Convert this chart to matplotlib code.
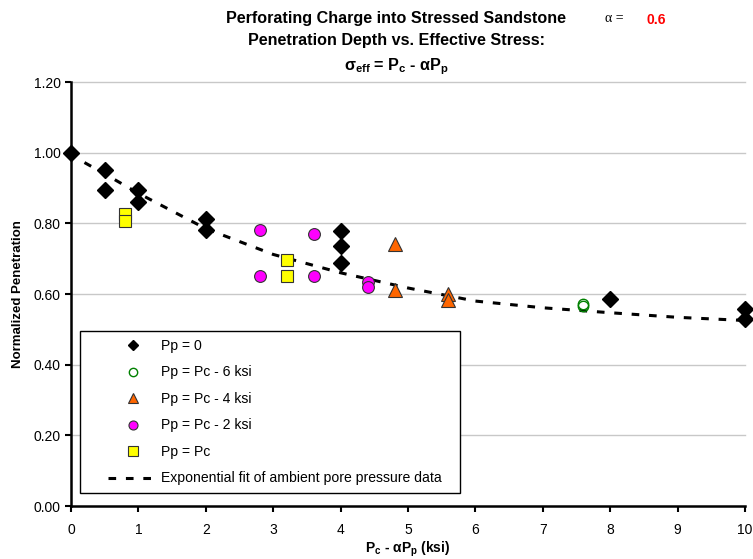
import numpy as np
import matplotlib
matplotlib.use('Agg')
import matplotlib.pyplot as plt
from matplotlib.patches import Rectangle
from matplotlib.lines import Line2D

plt.rcParams['font.family'] = ['Liberation Sans', 'DejaVu Sans']
plt.rcParams['mathtext.fontset'] = 'custom'
plt.rcParams['mathtext.rm'] = 'Liberation Sans:bold'
plt.rcParams['mathtext.it'] = 'Liberation Sans:bold'
plt.rcParams['mathtext.bf'] = 'Liberation Sans:bold'

# %% data
pp0_x = [0, 0.5, 0.5, 1, 1, 2, 2, 4, 4, 4, 8, 10, 10]
pp0_y = [1.00, 0.952, 0.895, 0.893, 0.861, 0.813, 0.782, 0.779, 0.737, 0.688, 0.585, 0.557, 0.528]

pc6_x = [7.6, 7.6]
pc6_y = [0.573, 0.565]

pc4_x = [4.8, 4.8, 5.6, 5.6]
pc4_y = [0.742, 0.612, 0.600, 0.583]

pc2_x = [2.8, 2.8, 3.6, 3.6, 4.4, 4.4]
pc2_y = [0.780, 0.650, 0.771, 0.650, 0.635, 0.621]

pc_x = [0.8, 0.8, 3.2, 3.2]
pc_y = [0.827, 0.806, 0.697, 0.651]

fit_x = [0.2, 0.5, 1, 2, 3, 4, 5, 6, 7, 8, 9, 10]
fit_y = [0.972, 0.94, 0.885, 0.785, 0.712, 0.660, 0.617, 0.580, 0.561, 0.547, 0.534, 0.525]

yticks = [0.0, 0.2, 0.4, 0.6, 0.8, 1.0, 1.2]
xticks = list(range(0, 11))

# %% figure
W, H = 753, 559
fig = plt.figure(figsize=(W / 100, H / 100), dpi=100)
ax = fig.add_axes([71 / W, 1 - 506 / H, 674 / W, 424 / H])

for y in yticks[1:]:
    ax.axhline(y, color='#c8c8c8', lw=1.0, zorder=0)

fit_line, = ax.plot(fit_x, fit_y, color='black', lw=2.2, dashes=(2.5, 3.2),
                    label='Exponential fit of ambient pore pressure data', zorder=2)
ax.plot(pp0_x, pp0_y, 'D', ms=7.8, color='black', ls='none', zorder=3)
ax.plot(pc6_x, pc6_y, 'o', ms=7.5, mfc='none', mec='#008000', mew=1.0, ls='none', zorder=3)
ax.plot(pc4_x, pc4_y, '^', ms=9.5, mfc='#ff6600', mec='#333333', mew=0.8, ls='none', zorder=3)
ax.plot(pc2_x, pc2_y, 'o', ms=8.5, mfc='#ff00ff', mec='#333333', mew=0.8, ls='none', zorder=3)
ax.plot(pc_x, pc_y, 's', ms=8.5, mfc='#ffff00', mec='#333333', mew=0.8, ls='none', zorder=3)

ax.set_xlim(0, 10)
ax.set_ylim(0, 1.2)
ax.set_xticks(xticks)
ax.set_yticks(yticks)
ax.set_yticklabels(['{0:.2f}'.format(v) for v in yticks])
ax.tick_params(axis='both', direction='out', length=4, width=1.5, labelsize=10)
ax.tick_params(axis='x', pad=8)
for s in ['top', 'right']:
    ax.spines[s].set_visible(False)
for s in ['left', 'bottom']:
    ax.spines[s].set_linewidth(1.8)
for art in ax.lines:
    art.set_clip_on(False)

# %% legend
handles = [
    Line2D([], [], marker='D', ms=5.5, color='black', ls='none'),
    Line2D([], [], marker='o', ms=6, mfc='none', mec='#008000', ls='none'),
    Line2D([], [], marker='^', ms=7, mfc='#ff6600', mec='#333333', mew=0.8, ls='none'),
    Line2D([], [], marker='o', ms=6.5, mfc='#ff00ff', mec='#333333', mew=0.8, ls='none'),
    Line2D([], [], marker='s', ms=6.5, mfc='#ffff00', mec='#333333', mew=0.8, ls='none'),
    fit_line,
]
labels = ['Pp = 0', 'Pp = Pc - 6 ksi', 'Pp = Pc - 4 ksi', 'Pp = Pc - 2 ksi', 'Pp = Pc',
          'Exponential fit of ambient pore pressure data']
leg = fig.legend(handles, labels, loc='upper left', bbox_to_anchor=(108 / W, 1 - 339 / H),
                 frameon=False, fontsize=10.1, handlelength=3.6, handletextpad=0.15,
                 labelspacing=0.89, borderpad=0, borderaxespad=0)
fig.patches.append(Rectangle((80 / W, 1 - 493 / H), 380 / W, 162 / H,
                             transform=fig.transFigure, fill=True, facecolor='white',
                             edgecolor='black', lw=1.0, zorder=1))

# %% text
fig.text(396 / W, 1 - 19 / H, 'Perforating Charge into Stressed Sandstone',
         ha='center', va='center', fontsize=11.6, fontweight='bold')
fig.text(396 / W, 1 - 40 / H, 'Penetration Depth vs. Effective Stress:',
         ha='center', va='center', fontsize=11.6, fontweight='bold')
fig.text(396 / W, 1 - 67 / H, r'σ$_{\mathrm{eff}}$ = P$_{\mathrm{c}}$ - αP$_{\mathrm{p}}$',
         ha='center', va='center', fontsize=11.6, fontweight='bold')
fig.text(614 / W, 1 - 19 / H, 'α =', ha='center', va='center', fontsize=10,
         family=['Liberation Serif', 'DejaVu Serif'])
fig.text(656 / W, 1 - 20 / H, '0.6', ha='center', va='center', fontsize=10,
         fontweight='bold', color='red')
fig.text(18 / W, 1 - 294 / H, 'Normalized Penetration', rotation=90,
         ha='center', va='center', fontsize=9.5, fontweight='bold')
fig.text(408 / W, 1 - 549 / H, r'P$_{\mathrm{c}}$ - αP$_{\mathrm{p}}$ (ksi)',
         ha='center', va='center', fontsize=10, fontweight='bold')

fig.savefig('out.png', dpi=100)
